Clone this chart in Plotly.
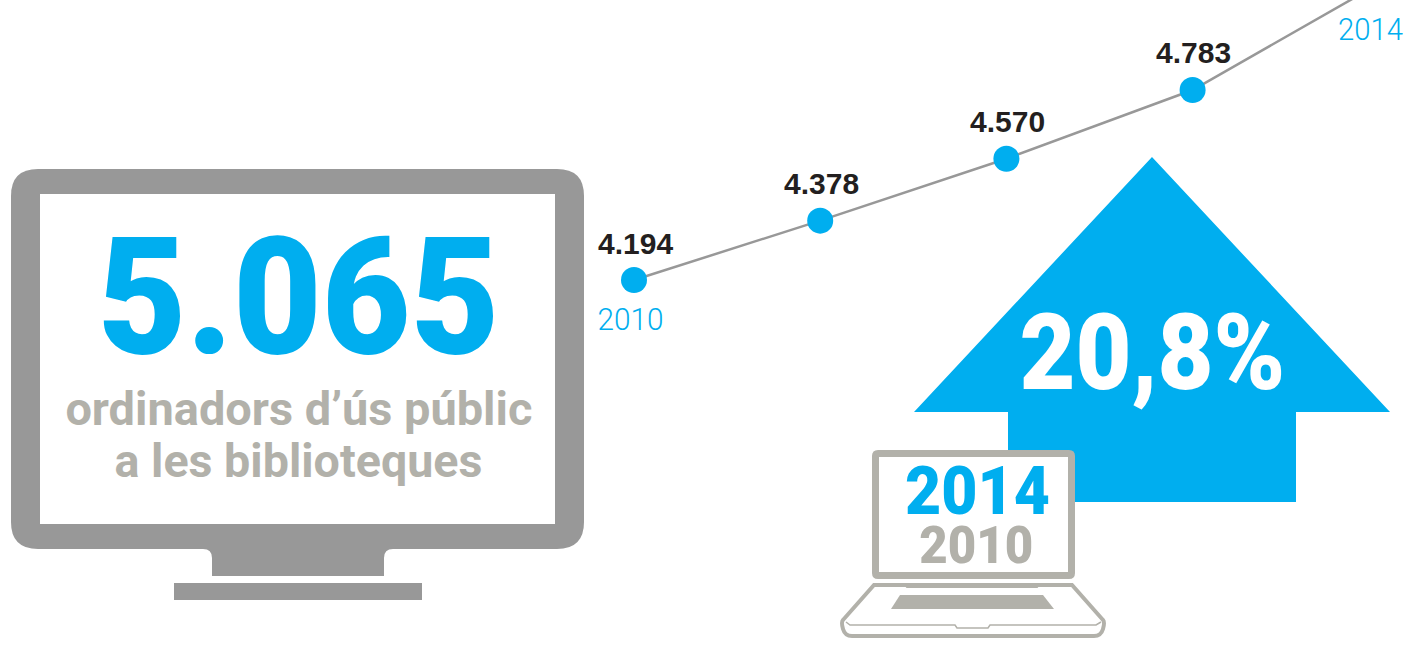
import json
import plotly.graph_objects as go

# ---- data ----
years = [2010, 2011, 2012, 2013, 2014]
# The first four are the printed values. The 2014 point lies above the canvas and its line is
# steeper than the scale of the others, so 5112 is the height;
# the figure printed for 2014 is 5.065 (total_label).
computers = [4194, 4378, 4570, 4783, 5112]
value_labels = ["4.194", "4.378", "4.570", "4.783"]
total_label = "5.065"
growth_label = "20,8%"
caption_lines = ["ordinadors d’ús públic", "a les biblioteques"]

W, H = 1408, 664
BLUE = "#00AEEF"
GREY = "#989898"
STONE = "#B2B1AA"
DARK = "#231F20"
DIN = "Roboto, sans-serif"


def X(p):
    return p / W


def Y(p):
    return 1 - p / H


def path(points, close=True):
    s = " ".join(("M" if i == 0 else "L") + f"{X(a):.5f},{Y(b):.5f}" for i, (a, b) in enumerate(points))
    return s + (" Z" if close else "")


def rrect(x0, y0, x1, y1, r):
    def q(cx, cy, ex, ey):
        return f"Q{X(cx):.5f},{Y(cy):.5f} {X(ex):.5f},{Y(ey):.5f}"
    return (
        f"M{X(x0 + r):.5f},{Y(y0):.5f} L{X(x1 - r):.5f},{Y(y0):.5f} " + q(x1, y0, x1, y0 + r)
        + f" L{X(x1):.5f},{Y(y1 - r):.5f} " + q(x1, y1, x1 - r, y1)
        + f" L{X(x0 + r):.5f},{Y(y1):.5f} " + q(x0, y1, x0, y1 - r)
        + f" L{X(x0):.5f},{Y(y0 + r):.5f} " + q(x0, y0, x0 + r, y0) + " Z"
    )


def shape(d, fill=None, line=None, width=0):
    return dict(type="path", xref="paper", yref="paper", path=d, layer="above",
                fillcolor=fill if fill else "rgba(0,0,0,0)",
                line=dict(color=line if line else "rgba(0,0,0,0)", width=width))


def text(t, px, py, size, color, family=DIN, weight="bold"):
    return dict(text=t, x=X(px), y=Y(py), xref="paper", yref="paper", xanchor="center", yanchor="middle",
                showarrow=False, font=dict(size=size, color=color, family=family, weight=weight))


neck = (f"M{X(203):.5f},{Y(549):.5f} Q{X(212):.5f},{Y(549):.5f} {X(212):.5f},{Y(558):.5f} "
        f"L{X(212):.5f},{Y(576):.5f} L{X(384):.5f},{Y(576):.5f} L{X(384):.5f},{Y(558):.5f} "
        f"Q{X(384):.5f},{Y(549):.5f} {X(393):.5f},{Y(549):.5f} Z")

shapes = [
    # monitor
    shape(rrect(11, 169, 584, 549, 27), GREY),
    shape(path([(40, 194), (555, 194), (555, 524), (40, 524)]), "#FFFFFF"),
    shape(neck, GREY),
    shape(path([(174, 583), (422, 583), (422, 600), (174, 600)]), GREY),
    # arrow
    shape(path([(1152, 157), (1390, 412), (1296, 412), (1296, 502), (1008, 502), (1008, 412), (914, 412)]), BLUE),
    # laptop lid
    shape(rrect(872, 450, 1075, 579, 6), STONE),
    shape(path([(879, 457), (1068, 457), (1068, 572), (879, 572)]), "#FFFFFF"),
    # laptop base
    shape(
        f"M{X(874):.5f},{Y(585):.5f} L{X(1072):.5f},{Y(585):.5f} L{X(1103):.5f},{Y(620):.5f} "
        f"Q{X(1105):.5f},{Y(622):.5f} {X(1103):.5f},{Y(629):.5f} Q{X(1101):.5f},{Y(636):.5f} {X(1094):.5f},{Y(636):.5f} "
        f"L{X(852):.5f},{Y(636):.5f} Q{X(845):.5f},{Y(636):.5f} {X(843):.5f},{Y(629):.5f} "
        f"Q{X(841):.5f},{Y(622):.5f} {X(843):.5f},{Y(620):.5f} Z",
        "#FFFFFF", STONE, 4),
    shape(path([(875, 585), (905, 585), (907, 587), (1037, 587), (1039, 585), (1072, 585)], close=False), None, STONE, 2),
    shape(path([(846, 622), (850, 625), (955, 625), (957, 628), (988, 628), (990, 625), (1096, 625), (1101, 622)], close=False), None, STONE, 1.5),
    shape(path([(900, 595), (1043, 595), (1054, 609), (891, 609)]), STONE),
]

# (annotation, rendered width in px): the reference's DIN is narrower than any installed face,
# so the glyphs are fitted to the measured width.
fitted = [
    (text(total_label, 298.5, 297, 163, BLUE, weight=900), 402),
    (text(caption_lines[0], 298.5, 409, 46, STONE), 467),
    (text(caption_lines[1], 298, 461, 46, STONE), 368),
    (text(growth_label, 1152.5, 353.5, 105, "#FFFFFF", weight=900), 266),
    (text(str(years[-1]), 977.5, 491, 66, BLUE, weight=900), 145),
    (text(str(years[0]), 976.5, 545, 52, STONE, weight=900), 114),
    (text(str(years[0]), 630.5, 319, 32, BLUE, weight=300), 66),
    (text(str(years[-1]), 1370, 29, 32, BLUE, weight=300), 65),
]
annotations = [a for a, _ in fitted]
widths = [w for _, w in fitted]

# value labels sit above their points on the chart's own axes
for yr, val, lab in zip(years, computers, value_labels):
    annotations.append(dict(text=lab, x=yr, y=val, xref="x", yref="y", xanchor="center", yanchor="middle",
                            xshift=1, yshift=37, showarrow=False,
                            font=dict(size=30, color=DARK, family="Liberation Sans", weight="bold")))

fig = go.Figure(go.Scatter(
    x=years, y=computers, mode="lines+markers", cliponaxis=True, hoverinfo="skip",
    line=dict(color=GREY, width=2.5),
    marker=dict(color=BLUE, size=26, opacity=1, line=dict(width=0)),
))

# axis ranges place the 2010 point and the year/value steps on the canvas
x0_px, y0_px, px_per_year, px_per_unit = 634, 280, 186.2, 0.3226
fig.update_layout(
    width=W, height=H, margin=dict(l=0, r=0, t=0, b=0), showlegend=False,
    paper_bgcolor="#FFFFFF", plot_bgcolor="rgba(0,0,0,0)",
    xaxis=dict(visible=False, range=[2010 - x0_px / px_per_year, 2010 + (W - x0_px) / px_per_year]),
    yaxis=dict(visible=False, range=[4194 - (H - y0_px) / px_per_unit, 4194 + y0_px / px_per_unit]),
    shapes=shapes, annotations=annotations,
)

post = """
document.body.style.margin='0';document.body.style.overflow='hidden';
var widths=%s;
document.querySelectorAll('.annotation').forEach(function(g){
  var i=+g.getAttribute('data-index');
  if(i<widths.length){
    var t=g.querySelector('text');
    t.setAttribute('textLength',widths[i]);
    t.setAttribute('lengthAdjust','spacingAndGlyphs');
  }
});
""" % json.dumps(widths)
fig.write_html("out.html", config={"displayModeBar": False}, post_script=post)
